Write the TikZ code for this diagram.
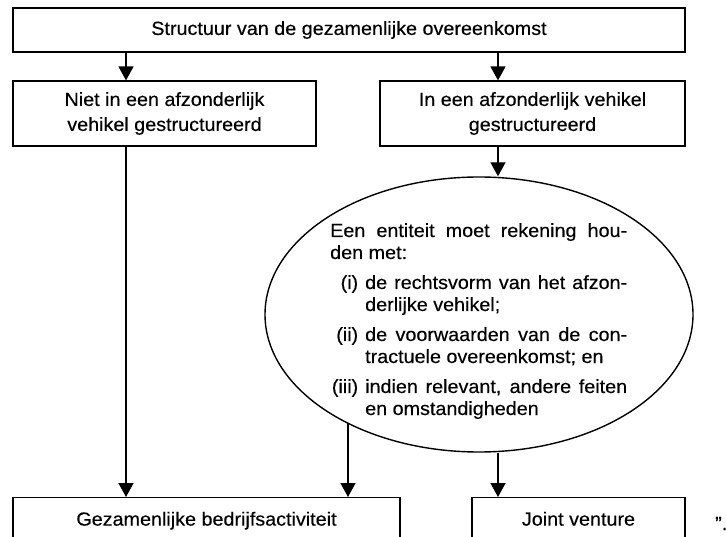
\documentclass[tikz,border=0pt]{standalone}
\usepackage{fontspec}
\setmainfont{Liberation Sans}[FakeStretch=1.04,FakeBold=0.3]
\usetikzlibrary{arrows.meta,shapes.geometric}
\newcommand\diagfont{\fontsize{19}{25}\selectfont}
\newcommand\itemlab[1]{\makebox[28pt][r]{#1}\hspace{7pt}}
\begin{document}
\begin{tikzpicture}[x=1pt,y=-1pt,
  box/.style={draw, line width=1.2pt, inner sep=0pt, font=\diagfont},
  arr/.style={line width=1.4pt, -{Triangle[width=15pt,length=14pt]}},
  txtline/.style={anchor=base west, inner sep=0pt, font=\diagfont}]
\useasboundingbox (0,0) rectangle (726,537);
\fill[white] (0,0) rectangle (726,537);
% column positions
\coordinate (cL) at (126,0);
\coordinate (cR) at (498,0);
\coordinate (cM) at (348,0);
% boxes
\node[box, minimum width=672pt, minimum height=44pt] (top) at (349,30) {Structuur van de gezamenlijke overeenkomst};
\node[box, minimum width=303pt, minimum height=65pt, align=center] (lbox) at (164.5,113.5) {Niet in een afzonderlijk\\vehikel gestructureerd};
\node[box, minimum width=305pt, minimum height=65pt, align=center] (rbox) at (532.5,113.5) {In een afzonderlijk vehikel\\gestructureerd};
\node[draw, ellipse, line width=1.4pt, minimum width=428pt, minimum height=275pt, inner sep=0pt] (ell) at (479,314.5) {};
% ellipse text
\node[txtline] (t1) at (330,237) {\makebox[297pt][s]{Een entiteit moet rekening hou-}};
\node[txtline] (t2) at (330,259) {den met:};
\node[txtline] (t3) at (330,289) {\itemlab{(i)}\makebox[262pt][s]{de rechtsvorm van het afzon-}};
\node[txtline] (t4) at (365,311) {derlijke vehikel;};
\node[txtline] (t5) at (330,341) {\itemlab{(ii)}\makebox[262pt][s]{de voorwaarden van de con-}};
\node[txtline] (t6) at (365,363) {tractuele overeenkomst; en};
\node[txtline] (t7) at (330,393) {\itemlab{(iii)}\makebox[262pt][s]{indien relevant, andere feiten}};
\node[txtline] (t8) at (365,415) {en omstandigheden};
% bottom boxes
\node[box, anchor=north, minimum width=387pt, text height=28pt, text depth=40pt] (blbox) at (206.5,497) {Gezamenlijke bedrijfsactiviteit};
\node[box, anchor=north, minimum width=213pt, text height=28pt, text depth=40pt] (jv) at (578.5,497) {Joint venture};
\node[txtline] (q) at (715,530) {”.};
% connectors
\draw[arr] (top.south -| cL) -- (lbox.north -| cL);
\draw[arr] (top.south -| cR) -- (rbox.north -| cR);
\draw[arr] (rbox.south -| cR) -- (ell.north -| cR);
\draw[arr] (lbox.south -| cL) -- (blbox.north -| cL);
\draw[arr] (ell.219.7 -| cM) -- (blbox.north -| cM);
\draw[arr] (ell.south -| cR) -- (jv.north -| cR);
\end{tikzpicture}
\end{document}
